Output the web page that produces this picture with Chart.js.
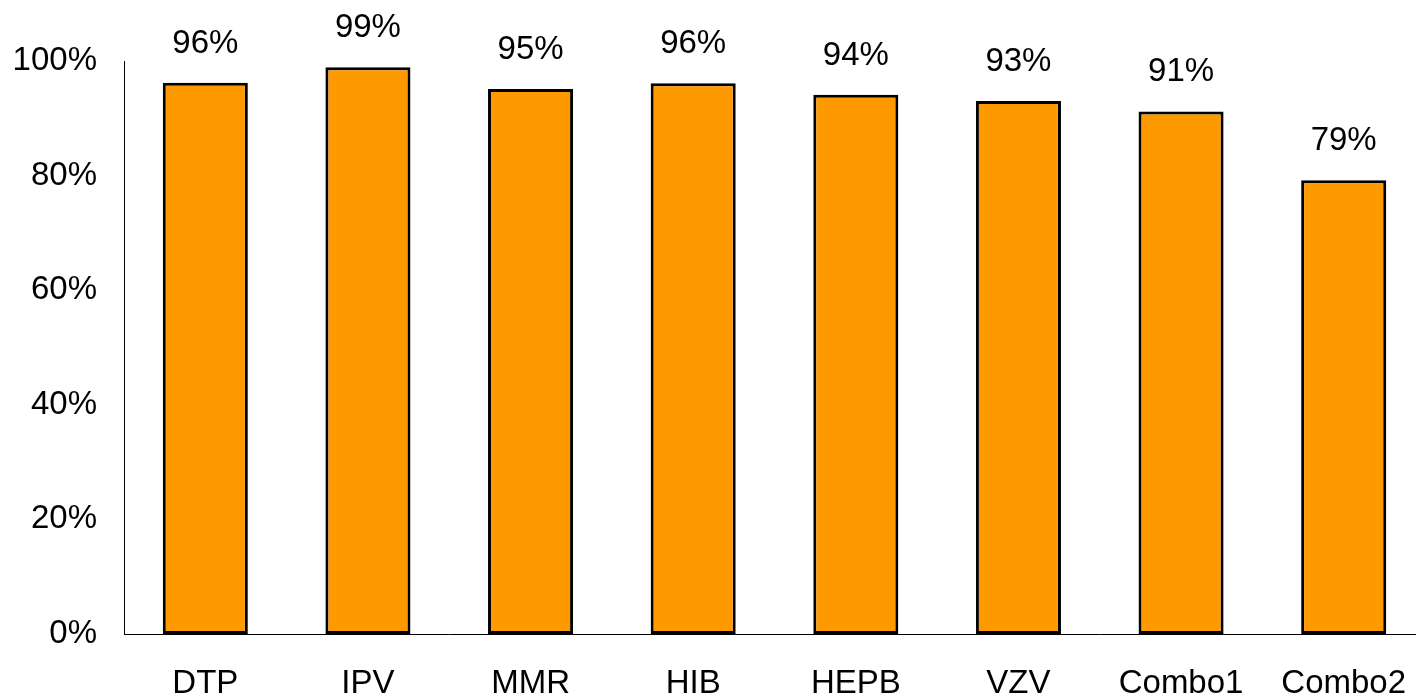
<!DOCTYPE html>
<html>
<head>
<meta charset="utf-8">
<script src="https://cdn.jsdelivr.net/npm/chart.js@4"></script>
<style>
  html, body { margin: 0; padding: 0; background: #fff; overflow: hidden; }
  #wrap { width: 1416px; height: 697px; overflow: hidden; position: relative; }
  canvas { display: block; }
</style>
</head>
<body>
<div id="wrap"><canvas id="coverage-chart" width="1432" height="697"></canvas></div>
<script>
(function() {
	'use strict';

	// Coverage per vaccine (percent)
	var vaccines = ['DTP', 'IPV', 'MMR', 'HIB', 'HEPB', 'VZV', 'Combo1', 'Combo2'];
	var coverage = [96.2, 98.9, 95.1, 96.1, 94.1, 93.0, 91.2, 79.2];
	var yTicks = [0, 20, 40, 60, 80, 100];

	var fontFamily = '"Liberation Sans", Arial, sans-serif';

	// value labels above each bar
	var barLabels = {
		id: 'barLabels',
		afterDatasetsDraw: function(chart) {
			var ctx = chart.ctx;
			var meta = chart.getDatasetMeta(0);
			ctx.save();
			ctx.font = '33px ' + fontFamily;
			ctx.fillStyle = '#000';
			ctx.textAlign = 'center';
			ctx.textBaseline = 'alphabetic';
			meta.data.forEach(function(bar, i) {
				ctx.fillText(Math.round(coverage[i]) + '%', bar.x, bar.y - 30);
			});
			ctx.restore();
		}
	};

	var canvas = document.getElementById('coverage-chart');
	new Chart(canvas.getContext('2d'), {
		type: 'bar',
		data: {
			labels: vaccines,
			datasets: [{
				data: coverage,
				backgroundColor: '#FF9900',
				borderColor: '#000000',
				borderWidth: 3,
				borderSkipped: false,
				barPercentage: 0.523,
				categoryPercentage: 1.0
			}]
		},
		options: {
			responsive: false,
			animation: false,
			// canvas is a bit wider than the page: plot area runs past the right edge
			layout: { padding: { top: 61, right: 7, left: 0, bottom: 0 } },
			plugins: {
				legend: { display: false },
				tooltip: { enabled: false }
			},
			scales: {
				x: {
					grid: { display: false, drawTicks: false },
					border: { display: true, color: '#000', width: 1 },
					ticks: {
						color: '#000',
						padding: 30,
						font: { family: fontFamily, size: 33 },
						maxRotation: 0,
						autoSkip: false
					},
					afterFit: function(scale) {
						scale.height = 63;
						scale.paddingLeft = 0;
						scale.paddingRight = 0;
					}
				},
				y: {
					min: 0,
					max: 100,
					grid: { display: false, drawTicks: false },
					border: { display: true, color: '#000', width: 1 },
					afterBuildTicks: function(scale) {
						scale.ticks = yTicks.map(function(v) { return { value: v }; });
					},
					ticks: {
						color: '#000',
						padding: 27,
						font: { family: fontFamily, size: 33 },
						callback: function(v) { return v + '%'; }
					},
					afterFit: function(scale) { scale.width = 124; }
				}
			}
		},
		plugins: [barLabels]
	});
})();
</script>
</body>
</html>
